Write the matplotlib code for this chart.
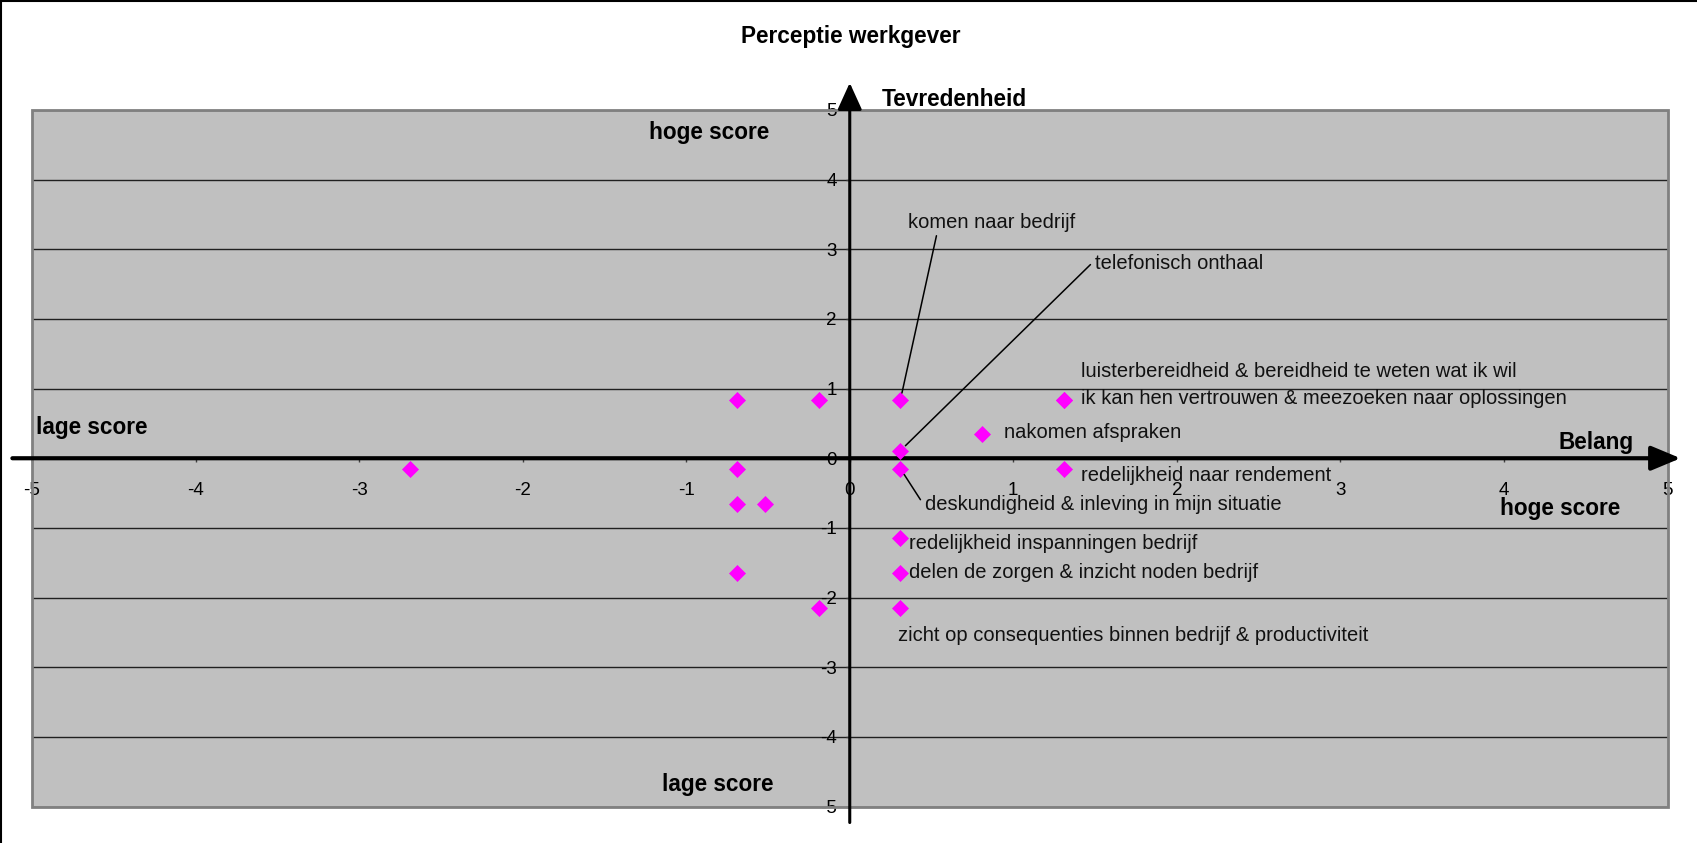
import matplotlib
matplotlib.use("Agg")
import matplotlib.pyplot as plt
from matplotlib.patches import Rectangle
from matplotlib.lines import Line2D

plt.rcParams['font.family'] = ['Liberation Sans', 'DejaVu Sans']

# data: belang (x) en tevredenheid (y) per item
belang = [-2.69, -0.69, -0.69, -0.69, -0.69, -0.52, -0.19, -0.19,
          0.31, 0.31, 0.31, 0.31, 0.31, 0.31, 0.81, 1.31, 1.31, 1.31]
tevredenheid = [-0.15, 0.84, -0.15, -0.65, -1.65, -0.65, 0.84, -2.15,
                0.84, 0.11, -0.15, -1.15, -1.65, -2.15, 0.35, 0.84, 0.84, -0.15]
labels = ["", "", "", "", "", "", "", "",
          "komen naar bedrijf",
          "telefonisch onthaal",
          "deskundigheid & inleving in mijn situatie",
          "redelijkheid inspanningen bedrijf",
          "delen de zorgen & inzicht noden bedrijf",
          "zicht op consequenties binnen bedrijf & productiviteit",
          "nakomen afspraken",
          "luisterbereidheid & bereidheid te weten wat ik wil",
          "ik kan hen vertrouwen & meezoeken naar oplossingen",
          "redelijkheid naar rendement"]
ticks = [-5, -4, -3, -2, -1, 0, 1, 2, 3, 4, 5]

# label positions (offset in pixels from the point) and leader lines
label_offsets = {
    "komen naar bedrijf": (8, 177),
    "telefonisch onthaal": (195, 187),
    "deskundigheid & inleving in mijn situatie": (25, -36),
    "redelijkheid inspanningen bedrijf": (9, -5),
    "delen de zorgen & inzicht noden bedrijf": (9, 1),
    "zicht op consequenties binnen bedrijf & productiviteit": (-2, -28),
    "nakomen afspraken": (22, 1),
    "luisterbereidheid & bereidheid te weten wat ik wil": (17, 28),
    "ik kan hen vertrouwen & meezoeken naar oplossingen": (17, 1),
    "redelijkheid naar rendement": (17, -7),
}
leaders = {
    "komen naar bedrijf": (36, 164),
    "telefonisch onthaal": (190, 186),
    "deskundigheid & inleving in mijn situatie": (20, -31),
}

W, H = 1697, 843
fig = plt.figure(figsize=(W / 100, H / 100), dpi=100)
ax = fig.add_axes([32 / W, 1 - 806.5 / H, (1667.5 - 32) / W, (806.5 - 110) / H])
ax.set_facecolor('#C0C0C0')
ax.set_xlim(-5, 5)
ax.set_ylim(-5, 5)

# axes through the origin
for s in ['top', 'right']:
    ax.spines[s].set_visible(False)
ax.spines['left'].set_position(('data', 0))
ax.spines['bottom'].set_position(('data', 0))
ax.spines['left'].set_visible(False)
ax.spines['bottom'].set_visible(False)
ax.set_xticks(ticks)
ax.set_yticks(ticks)
ax.set_xticklabels([str(t) for t in ticks])
ax.set_yticklabels([str(t) for t in ticks])
ax.tick_params(axis='x', direction='out', length=3, width=1, color='#404040',
               pad=14, labelsize=13.5)
ax.tick_params(axis='y', direction='out', length=3, width=1, color='#404040',
               pad=6.5, labelsize=13.5)
ax.yaxis.grid(True, color='#202020', lw=1)
ax.set_axisbelow(True)

# plot frame
ax.add_patch(Rectangle((0, 0), 1, 1, transform=ax.transAxes, fill=False,
                       ec='#808080', lw=2, clip_on=False, zorder=1))

# arrows for axes
ax.annotate('', xy=(5.08, 0), xytext=(-5.12, 0), annotation_clip=False,
            arrowprops=dict(arrowstyle='-|>,head_length=1.2,head_width=0.5',
                            mutation_scale=15, lw=3, color='black',
                            shrinkA=0, shrinkB=0), zorder=4)
ax.annotate('', xy=(0, 5.39), xytext=(0, -5.23), annotation_clip=False,
            arrowprops=dict(arrowstyle='-|>,head_length=1.1,head_width=0.5',
                            mutation_scale=15, lw=2.2, color='black',
                            shrinkA=0, shrinkB=0), zorder=4)

ax.plot(belang, tevredenheid, linestyle='none', marker='D', ms=8,
        color='#FF00FF', mec='#FF00FF', mew=0.5, zorder=5, clip_on=False)

for x, y, lab in zip(belang, tevredenheid, labels):
    if not lab:
        continue
    dx, dy = label_offsets[lab]
    ax.annotate(lab, xy=(x, y), xytext=(dx, dy), textcoords='offset pixels',
                ha='left', va='center', fontsize=14.5, color='#111111', zorder=6)
    if lab in leaders:
        lx, ly = leaders[lab]
        ax.annotate('', xy=(x, y), xytext=(lx, ly), textcoords='offset pixels',
                    arrowprops=dict(arrowstyle='-', lw=1.1, color='black',
                                    shrinkA=0, shrinkB=5), zorder=6)

# titles and quadrant labels
bold = dict(fontsize=16.3, fontweight='bold', va='center')
fig.text(851 / W, 1 - 36 / H, 'Perceptie werkgever', ha='center', **bold)
fig.text(882 / W, 1 - 99 / H, 'Tevredenheid', ha='left', **bold)
fig.text(1559 / W, 1 - 442 / H, 'Belang', ha='left', **bold)
fig.text(649 / W, 1 - 132 / H, 'hoge score', ha='left', **bold)
fig.text(36 / W, 1 - 427 / H, 'lage score', ha='left', **bold)
fig.text(1500 / W, 1 - 508 / H, 'hoge score', ha='left', **bold)
fig.text(662 / W, 1 - 785 / H, 'lage score', ha='left', **bold)

# border of the figure (top and left)
fig.add_artist(Line2D([0, 1], [1 - 1 / H, 1 - 1 / H], transform=fig.transFigure,
                      color='black', lw=1.5))
fig.add_artist(Line2D([1 / W, 1 / W], [0, 1], transform=fig.transFigure,
                      color='black', lw=1.5))

fig.savefig('out.png', dpi=100)
